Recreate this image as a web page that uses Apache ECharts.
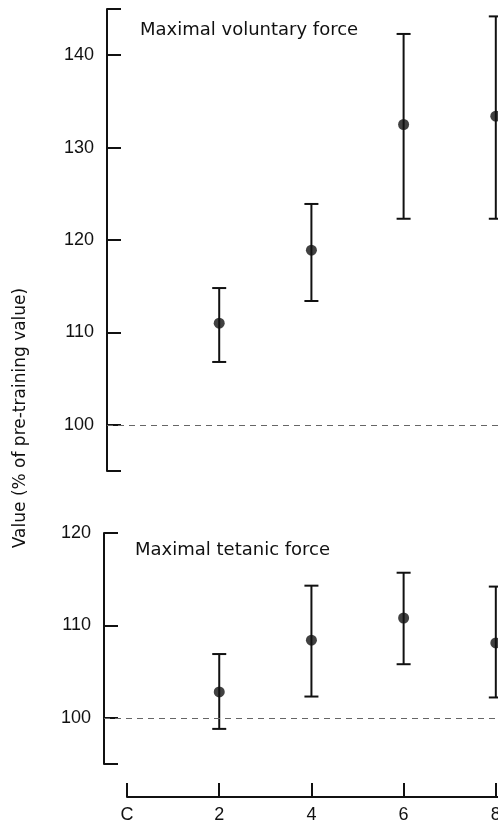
<!DOCTYPE html>
<html>
<head>
<meta charset="utf-8">
<script src="https://cdn.jsdelivr.net/npm/echarts@6/dist/echarts.min.js"></script>
<style>
html, body { margin: 0; padding: 0; background: #fff; }
#chartmain { width: 498px; height: 824px; }
</style>
</head>
<body>
<div id="chartmain"></div>
<script>
// weeks of training ('C' = control / pre-training)
var weeks = [2, 4, 6, 8];
var xTickValues = [0, 2, 4, 6, 8, 10];
var xTickLabels = ['C', '2', '4', '6', '8', '10'];

// maximal voluntary force, % of pre-training
var volMean = [111.0, 118.9, 132.5, 133.4];
var volHigh = [114.8, 123.9, 142.3, 144.2];
var volLow = [106.8, 113.4, 122.3, 122.3];

// maximal tetanic force, % of pre-training
var tetMean = [102.8, 108.4, 110.8, 108.1];
var tetHigh = [106.9, 114.3, 115.7, 114.2];
var tetLow = [98.8, 102.3, 105.8, 102.2];

var volTicks = [95, 100, 110, 120, 130, 140, 145];
var volLabels = [100, 110, 120, 130, 140];
var tetTicks = [95, 100, 110, 120];
var tetLabels = [100, 110, 120];

var FONT = 'Liberation Sans';
var WIDE = 'DejaVu Sans';
var INK = '#111';

function points(mean) {
	return weeks.map(function(w, i) { return [w, mean[i]]; });
}
function bars(low, high) {
	return weeks.map(function(w, i) { return [w, low[i], high[i]]; });
}

// vertical error bar with caps
function renderBar(params, api) {
	var x = api.value(0);
	var lo = api.coord([x, api.value(1)]);
	var hi = api.coord([x, api.value(2)]);
	var w = 7;
	var st = { stroke: INK, lineWidth: 2 };
	return {
		type: 'group',
		children: [
			{ type: 'line', shape: { x1: lo[0], y1: lo[1], x2: hi[0], y2: hi[1] }, style: st },
			{ type: 'line', shape: { x1: lo[0] - w, y1: lo[1], x2: lo[0] + w, y2: lo[1] }, style: st },
			{ type: 'line', shape: { x1: hi[0] - w, y1: hi[1], x2: hi[0] + w, y2: hi[1] }, style: st }
		]
	};
}

function yAxisFor(idx, min, max, ticks, labels) {
	return {
		type: 'value',
		gridIndex: idx,
		min: min,
		max: max,
		axisLine: { show: true, onZero: false, lineStyle: { color: INK, width: 2 } },
		axisTick: { show: true, inside: true, length: 14, customValues: ticks, lineStyle: { color: INK, width: 2 } },
		axisLabel: { customValues: labels, margin: 13, fontSize: 18, color: INK, fontFamily: FONT },
		splitLine: { show: false }
	};
}

function hiddenX(idx, min) {
	return { type: 'value', gridIndex: idx, min: min, max: 10, show: false, splitLine: { show: false } };
}

var refLine = {
	symbol: 'none',
	silent: true,
	label: { show: false },
	lineStyle: { type: [6, 5], color: '#666', width: 1 },
	data: [{ yAxis: 100 }]
};

var option = {
	animation: false,
	backgroundColor: '#fff',
	title: [
		{ text: 'Maximal voluntary force', left: 140, top: 21, padding: 0,
		  textStyle: { fontSize: 18, fontWeight: 'normal', color: INK, fontFamily: WIDE } },
		{ text: 'Maximal tetanic force', left: 135, top: 541, padding: 0,
		  textStyle: { fontSize: 18, fontWeight: 'normal', color: INK, fontFamily: WIDE } }
	],
	graphic: [{
		type: 'text',
		x: 21,
		y: 418,
		rotation: Math.PI / 2,
		style: { text: 'Value (% of pre-training value)', align: 'center', verticalAlign: 'middle',
			fontSize: 17, fontFamily: WIDE, fill: INK }
	}],
	grid: [
		{ left: 107, right: -90, top: 9, height: 462, outerBoundsMode: 'none', containLabel: false },
		{ left: 104, right: -90, top: 533, height: 231, outerBoundsMode: 'none', containLabel: false },
		{ left: 127, right: -90, top: 796, height: 1, outerBoundsMode: 'none', containLabel: false }
	],
	xAxis: [
		hiddenX(0, -0.434),
		hiddenX(1, -0.5),
		{
			type: 'value',
			gridIndex: 2,
			min: 0,
			max: 10,
			position: 'bottom',
			axisLine: { show: true, onZero: false, lineStyle: { color: INK, width: 2 } },
			axisTick: { show: true, inside: true, length: 14, customValues: xTickValues, lineStyle: { color: INK, width: 2 } },
			axisLabel: {
				customValues: xTickValues,
				margin: 9,
				fontSize: 18,
				color: INK,
				fontFamily: FONT,
				formatter: function(v) { return xTickLabels[xTickValues.indexOf(v)]; }
			},
			splitLine: { show: false }
		}
	],
	yAxis: [
		yAxisFor(0, 95, 145, volTicks, volLabels),
		yAxisFor(1, 95, 120, tetTicks, tetLabels),
		{ type: 'value', gridIndex: 2, show: false, min: 0, max: 1 }
	],
	series: [
		{ name: 'vol-sem', type: 'custom', xAxisIndex: 0, yAxisIndex: 0, renderItem: renderBar,
		  encode: { x: 0, y: [1, 2] }, data: bars(volLow, volHigh), z: 2 },
		{ name: 'Maximal voluntary force', type: 'scatter', xAxisIndex: 0, yAxisIndex: 0,
		  symbolSize: 11, itemStyle: { color: INK }, data: points(volMean), markLine: refLine, z: 3 },
		{ name: 'tet-sem', type: 'custom', xAxisIndex: 1, yAxisIndex: 1, renderItem: renderBar,
		  encode: { x: 0, y: [1, 2] }, data: bars(tetLow, tetHigh), z: 2 },
		{ name: 'Maximal tetanic force', type: 'scatter', xAxisIndex: 1, yAxisIndex: 1,
		  symbolSize: 11, itemStyle: { color: INK }, data: points(tetMean), markLine: refLine, z: 3 }
	]
};

var myChart = echarts.init(document.getElementById('chartmain'));
myChart.setOption(option);
</script>
</body>
</html>
